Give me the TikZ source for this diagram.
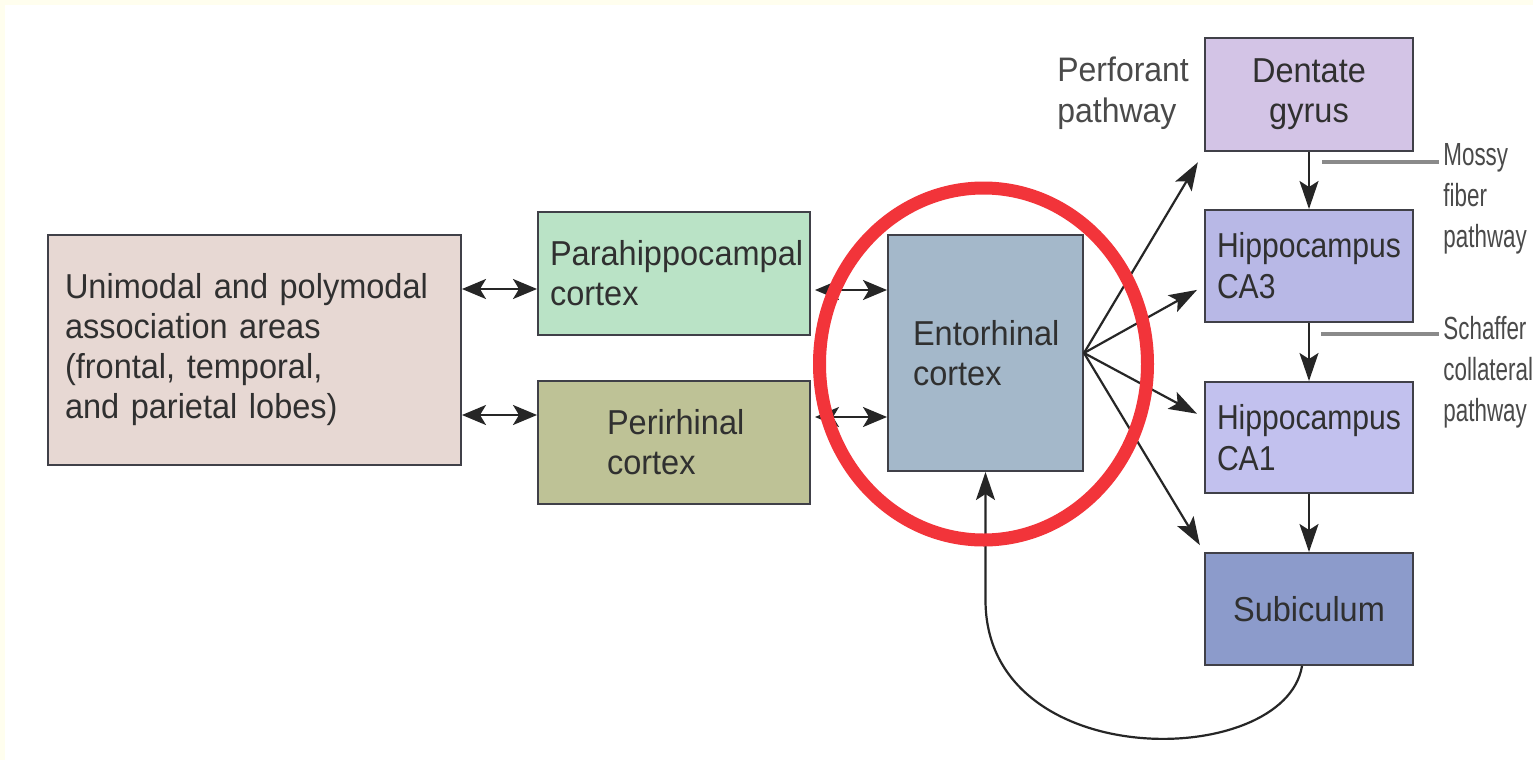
\documentclass[tikz,border=0pt]{standalone}
\usepackage{fontspec}
\setmainfont{Liberation Sans}[FakeStretch=0.94]
\newfontfamily\narrowfont{Liberation Sans}[FakeStretch=0.7]
\newfontfamily\hipfont{Liberation Sans}[FakeStretch=0.87]
\usetikzlibrary{arrows.meta}
\definecolor{cream}{HTML}{FFFEEE}
\definecolor{boxline}{HTML}{404048}
\definecolor{txt}{HTML}{303030}
\definecolor{sidetxt}{HTML}{4A4A4A}
\definecolor{cUni}{HTML}{E7D8D3}
\definecolor{cPara}{HTML}{BAE3C6}
\definecolor{cPeri}{HTML}{BEC296}
\definecolor{cEnt}{HTML}{A4B8CA}
\definecolor{cDG}{HTML}{D3C4E6}
\definecolor{cCAthree}{HTML}{B8B8E6}
\definecolor{cCAone}{HTML}{C2C1EE}
\definecolor{cSub}{HTML}{8C9BCB}
\definecolor{ringred}{HTML}{F2343A}
\definecolor{pathgray}{HTML}{8A8A8A}
\tikzset{
  box/.style={draw=boxline, line width=1pt, inner sep=0pt, text=txt,
    font=\fontsize{17.3}{20}\selectfont, align=left},
  hbox/.style={box, font=\hipfont\fontsize{17.3}{20.5}\selectfont},
  lbl/.style={text=sidetxt, inner sep=0pt, font=\fontsize{17}{20.5}\selectfont},
  nlbl/.style={text=sidetxt, inner sep=0pt, font=\narrowfont\fontsize{16}{20.5}\selectfont, align=left},
  arr/.style={draw=black!85, line width=1.1pt, -{Stealth[length=14pt,width=9.5pt,inset=3pt]}},
  darr/.style={draw=black!85, line width=1.1pt, {Stealth[length=12pt,width=10pt,inset=3pt]}-{Stealth[length=12pt,width=10pt,inset=3pt]}},
  guide/.style={draw=pathgray, line width=1.6pt}
}
\begin{document}
\begin{tikzpicture}[x=0.5pt,y=-0.5pt]
\useasboundingbox (0,0) rectangle (1533,760);
\clip (0,0) rectangle (1533,760);
\fill[cream] (0,0) rectangle (1533,760);
\fill[white] (5,5) rectangle (1533,760);

% boxes (pixel coordinates of centres; sizes in pt = px/2)
\node[box, fill=cUni, minimum width=206.5pt, minimum height=115pt, text width=189.5pt] (uni) at (254.5,350)
  {Unimodal and polymodal\\association areas\\(frontal, temporal,\\and parietal lobes)};
\node[box, fill=cPara, minimum width=136pt, minimum height=61.5pt, text width=124pt] (ph) at (674,273.5)
  {Parahippocampal\\cortex};
\node[box, fill=cPeri, minimum width=136pt, minimum height=61.5pt, text width=67pt] (pr) at (674,442.5)
  {Perirhinal\\cortex};
\node[box, fill=cEnt, minimum width=97.5pt, minimum height=118pt, text width=72.5pt] (ent) at (985.5,353)
  {Entorhinal\\cortex};
\node[box, fill=cDG, minimum width=104pt, minimum height=56.5pt, align=center] (dg) at (1309,94.5)
  {Dentate\\gyrus};
\node[hbox, fill=cCAthree, minimum width=104pt, minimum height=56pt, text width=92pt] (ca3) at (1309,266)
  {Hippocampus\\CA3};
\node[hbox, fill=cCAone, minimum width=104pt, minimum height=55.5pt, text width=92pt] (ca1) at (1309,437.5)
  {Hippocampus\\CA1};
\node[box, fill=cSub, minimum width=104pt, minimum height=56pt, align=center] (sub) at (1309,609)
  {Subiculum};

% side labels
\node[lbl, anchor=west, align=left] (perf) at (1057,93) {Perforant\\pathway};
\node[nlbl, anchor=west] (mossy) at (1443,199) {Mossy\\fiber\\pathway};
\node[nlbl, anchor=west] (schaf) at (1443,372) {Schaffer\\collateral\\pathway};

% guide lines to labels
\coordinate (mossyA) at (1322,162);
\draw[guide] (mossyA) -- ([xshift=-2pt]mossy.west |- mossyA);
\coordinate (schafA) at (1321,334);
\draw[guide] (schafA) -- ([xshift=-2pt]schaf.west |- schafA);

% double arrows
\coordinate (pA) at ([yshift=-7.75pt]ph.west);
\draw[darr] (uni.east |- pA) -- (pA);
\coordinate (rA) at ([yshift=13.75pt]pr.west);
\draw[darr] (uni.east |- rA) -- (rA);
\coordinate (pB) at ([yshift=-8.25pt]ph.east);
\draw[darr] ([xshift=2pt]pB) -- (ent.west |- pB);
\coordinate (rB) at ([yshift=12.75pt]pr.east);
\draw[darr] ([xshift=2pt]rB) -- (ent.west |- rB);

% entorhinal fan
\draw[arr, shorten >=6pt] (ent.east) -- (dg.south west);
\draw[arr, shorten >=4pt] (ent.east) -- ([yshift=-10pt]ca3.west);
\draw[arr, shorten >=4pt] (ent.east) -- ([yshift=10pt]ca1.west);
\draw[arr, shorten >=4pt] (ent.east) -- (sub.north west);

% trisynaptic chain
\draw[arr] (dg.south) -- (ca3.north);
\draw[arr] (ca3.south) -- (ca1.north);
\draw[arr] (ca1.south) -- (sub.north);

% return loop
\coordinate (loopup) at (985.5,600);
\draw[arr] ([xshift=-3.5pt]sub.south) .. controls (1285,770) and (985.5,775) .. (loopup) -- (ent.south);

% red highlight ring
\draw[ringred, line width=6.5pt] (983.5,364) ellipse [x radius=82pt, y radius=88pt];
\end{tikzpicture}
\end{document}
